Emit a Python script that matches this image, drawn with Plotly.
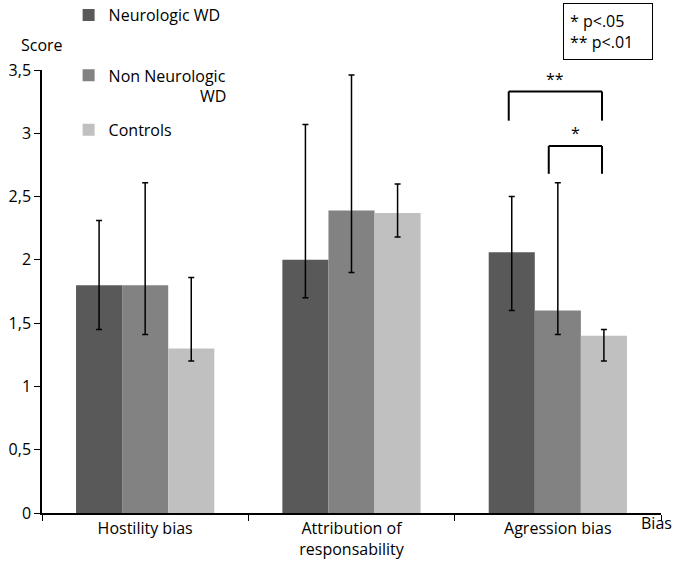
import plotly.graph_objects as go

categories = ["Hostility bias", "Attribution of<br>responsability", "Agression bias"]
groups = ["Neurologic WD", "Non Neurologic<br>                      WD", "Controls"]
colors = ["#595959", "#828282", "#c0c0c0"]

means = {
    "Neurologic WD": [1.80, 2.00, 2.06],
    "Non Neurologic": [1.80, 2.39, 1.60],
    "Controls": [1.30, 2.37, 1.40],
}
err_top = {
    "Neurologic WD": [2.31, 3.07, 2.50],
    "Non Neurologic": [2.61, 3.46, 2.61],
    "Controls": [1.86, 2.60, 1.45],
}
err_bottom = {
    "Neurologic WD": [1.45, 1.70, 1.60],
    "Non Neurologic": [1.41, 1.90, 1.41],
    "Controls": [1.20, 2.18, 1.20],
}

y_ticks = [0, 0.5, 1, 1.5, 2, 2.5, 3, 3.5]
y_ticktext = ["0", "0,5", "1", "1,5", "2", "2,5", "3", "3,5"]

font = "Open Sans"

# one legend per group so the uneven spacing of the original can be kept
legend_names = ["legend", "legend2", "legend3"]
legend_y = [1.124, 0.964, 0.865]

fig = go.Figure()
for key, name, color, leg in zip(means, groups, colors, legend_names):
    m = means[key]
    fig.add_trace(go.Bar(
        x=categories,
        y=m,
        name=name,
        legend=leg,
        showlegend=True,
        marker=dict(color=color, line=dict(width=0)),
        error_y=dict(
            type="data",
            symmetric=False,
            array=[t - v for t, v in zip(err_top[key], m)],
            arrayminus=[v - b for b, v in zip(err_bottom[key], m)],
            color="black",
            thickness=1.5,
            width=3,
        ),
    ))

# significance brackets on the agression group
for x0, x1, ytop, ybot, label in [(1.762, 2.214, 3.33, 3.10, "**"),
                                   (1.956, 2.214, 2.90, 2.68, "*")]:
    fig.add_shape(type="line", x0=x0, x1=x0, y0=ybot, y1=ytop, line=dict(color="black", width=2))
    fig.add_shape(type="line", x0=x0, x1=x1, y0=ytop, y1=ytop, line=dict(color="black", width=2))
    fig.add_shape(type="line", x0=x1, x1=x1, y0=ybot, y1=ytop, line=dict(color="black", width=2))
    fig.add_annotation(x=(x0 + x1) / 2, y=ytop, text=label, showarrow=False,
                       yanchor="bottom", font=dict(size=16, color="black"))

fig.add_annotation(xref="paper", yref="paper", x=0, y=1.057, text="Score", showarrow=False,
                   xanchor="center", yanchor="middle", font=dict(size=16, color="black"))
fig.add_annotation(xref="paper", yref="paper", x=0.964, y=0, yshift=-10, text="Bias",
                   showarrow=False, xanchor="left", yanchor="middle",
                   font=dict(size=16, color="black"))
fig.add_annotation(xref="paper", yref="paper", x=0.841, y=1.151, text="* p<.05<br>** p<.01",
                   showarrow=False, xanchor="left", yanchor="top", align="left",
                   width=76, bordercolor="black", borderwidth=1, borderpad=6,
                   font=dict(size=16, color="black"))

legend_style = dict(x=0.043, xanchor="left", yanchor="middle", valign="top",
                    font=dict(size=16), itemwidth=30, bgcolor="rgba(0,0,0,0)")

fig.update_layout(
    width=675,
    height=573,
    margin=dict(l=42, r=14, t=70, b=60, autoexpand=False),
    paper_bgcolor="white",
    plot_bgcolor="white",
    font=dict(family=font, size=16, color="black"),
    showlegend=True,
    barmode="group",
    bargap=0.33,
    bargroupgap=0,
    legend=dict(y=legend_y[0], **legend_style),
    legend2=dict(y=legend_y[1], **legend_style),
    legend3=dict(y=legend_y[2], **legend_style),
    xaxis=dict(
        showline=True, linecolor="black", linewidth=1.5,
        ticks="outside", tickson="boundaries", ticklen=6, tickcolor="black",
        showgrid=False,
    ),
    yaxis=dict(
        range=[0, 3.5], tickvals=y_ticks, ticktext=y_ticktext,
        showline=True, linecolor="black", linewidth=1.5,
        ticks="outside", ticklen=6, tickcolor="black",
        showgrid=False, zeroline=False,
    ),
)

fig.write_html("out.html", config={"displayModeBar": False},
               post_script="document.body.style.margin = '0px';")
